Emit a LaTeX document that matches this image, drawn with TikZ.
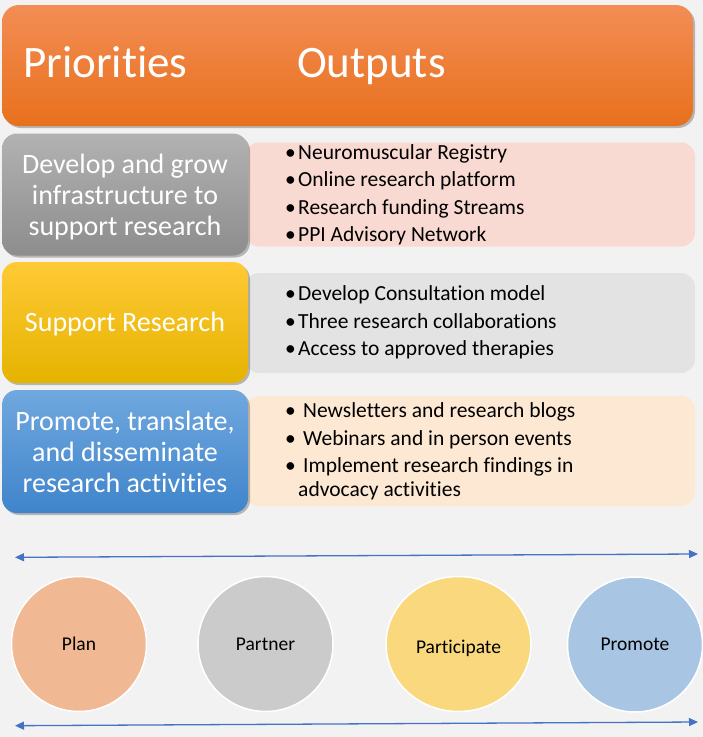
\documentclass[tikz,border=0pt]{standalone}
\usepackage{fontspec}
\setmainfont{Carlito}[RawFeature={-liga;-clig;-calt;-dlig}]
\usetikzlibrary{shapes.geometric, shadows, arrows.meta}

\definecolor{bgcol}{HTML}{F2F2F2}
\definecolor{orangetop}{HTML}{F38D55}
\definecolor{orangebot}{HTML}{E8701C}
\definecolor{greytop}{HTML}{B2B2B2}
\definecolor{greybot}{HTML}{8D8D8D}
\definecolor{yellowtop}{HTML}{FFCA35}
\definecolor{yellowbot}{HTML}{E5B300}
\definecolor{bluetop}{HTML}{70A8DF}
\definecolor{bluebot}{HTML}{3F84CB}
\definecolor{pinkfill}{HTML}{F8DAD2}
\definecolor{lightgrey}{HTML}{E3E3E3}
\definecolor{peachfill}{HTML}{FDE9D3}
\definecolor{planfill}{HTML}{F1B993}
\definecolor{partnerfill}{HTML}{CBCBCB}
\definecolor{partfill}{HTML}{FAD87D}
\definecolor{promfill}{HTML}{A8C6E4}
\definecolor{arrowblue}{HTML}{4472C4}

\tikzset{
  softshadow/.style={drop shadow={shadow xshift=2pt, shadow yshift=-2pt, opacity=0.25, fill=black}},
  headtext/.style={text=white, font=\fontsize{45}{54}\selectfont, inner sep=0pt, anchor=base west},
  prio/.style={rounded corners=15pt, minimum width=246pt, align=center, text=white,
    font=\fontsize{28}{31}\selectfont, softshadow},
  prioline/.style={text=white, font=\fontsize{28}{31}\selectfont, align=center, inner sep=0pt},
  outbox/.style={rounded corners=14pt, minimum width=450pt, inner sep=0pt},
  itemtext/.style={font=\fontsize{21.5}{23.3}\selectfont, inner sep=0pt, anchor=base west},
  stage/.style={ellipse, draw=white, line width=1.5pt, minimum height=135pt, minimum width=135pt,
    inner sep=0pt, font=\fontsize{19.5}{23}\selectfont},
  bothway/.style={draw=arrowblue, line width=1.3pt, {Triangle[length=9pt,width=8pt]}-{Triangle[length=9pt,width=8pt]}}
}

\begin{document}
\begin{tikzpicture}[x=1pt, y=-1pt]
    % Sfondo
    \useasboundingbox (0,0) rectangle (703,737);
    \fill[bgcol] (0,0) rectangle (703,737);

    % Intestazione
    \node[rounded corners=17pt, minimum width=691pt, minimum height=121pt, softshadow,
      top color=orangetop, bottom color=orangebot] (head) at (347.5,65.5) {};
    \node[headtext] (prio-title) at (23,77) {Priorit\kern0pt ies};
    \node[headtext] (out-title) at (297,77) {Outputs};

    % Riquadri dei risultati (dietro)
    \node[outbox, fill=pinkfill, minimum height=104pt] (infra-out) at (470,194.5) {};
    \node[outbox, fill=lightgrey, minimum height=100pt] (support-out) at (470,323) {};
    \node[outbox, fill=peachfill, minimum height=110pt] (promo-out) at (470,451) {};

    % Priorita
    \node[prio, minimum height=122pt, top color=greytop, bottom color=greybot] (infra) at (125,194.5) {};
    \node[prioline] (infra-text) at (125,197.5) {Develop and grow\\infrastructure to\\support research};
    \node[prio, minimum height=121pt, top color=yellowtop, bottom color=yellowbot] (support) at (125,322.5) {};
    \node[prioline] (support-text) at (125,324.5) {Support Research};
    \node[prio, minimum height=123pt, top color=bluetop, bottom color=bluebot] (promo) at (125,451.5)
      {Promote, translate,\\and disseminate\\research activit\kern0pt ies};

    % Elenchi puntati
    \foreach \txt [count=\i] in {Neuromuscular Registry, Online research platform,
        Research funding Streams, PPI Advisory Network}
      \node[itemtext] (infra-\i) at ({285}, {159.3+27.5*(\i-1)}) {\makebox[13pt][l]{\textbullet}\txt};
    \foreach \txt [count=\i] in {Develop Consultation model, Three research collaborations,
        Access to approved therapies}
      \node[itemtext] (support-\i) at ({285}, {300.5+27.7*(\i-1)}) {\makebox[13pt][l]{\textbullet}\txt};
    \foreach \txt [count=\i] in {Newsletters and research blogs, Webinars and in person events,
        Implement research findings in}
      \node[itemtext] (promo-\i) at ({285}, {417.3+27.7*(\i-1)}) {\makebox[18pt][l]{\textbullet}\txt};
    \node[itemtext] (promo-3b) at (298,496) {advocacy activities};

    % Fasi
    \node[stage, fill=planfill] (plan) at (79,644) {Plan};
    \node[stage, fill=partnerfill] (partner) at (265.5,644) {Partner};
    \node[stage, fill=partfill, minimum width=145pt] (participate) at (458.5,644)
      {\raisebox{-4pt}[\height][\depth]{Participate}};
    \node[stage, fill=promfill] (promote) at (635,644.5) {Promote};

    % Frecce
    \coordinate (top-l) at (15,557.3);
    \coordinate (top-r) at (698,554);
    \coordinate (bot-l) at (15,725.7);
    \coordinate (bot-r) at (698,722);
    \draw[bothway] (top-l) -- (top-r);
    \draw[bothway] (bot-l) -- (bot-r);
\end{tikzpicture}
\end{document}
